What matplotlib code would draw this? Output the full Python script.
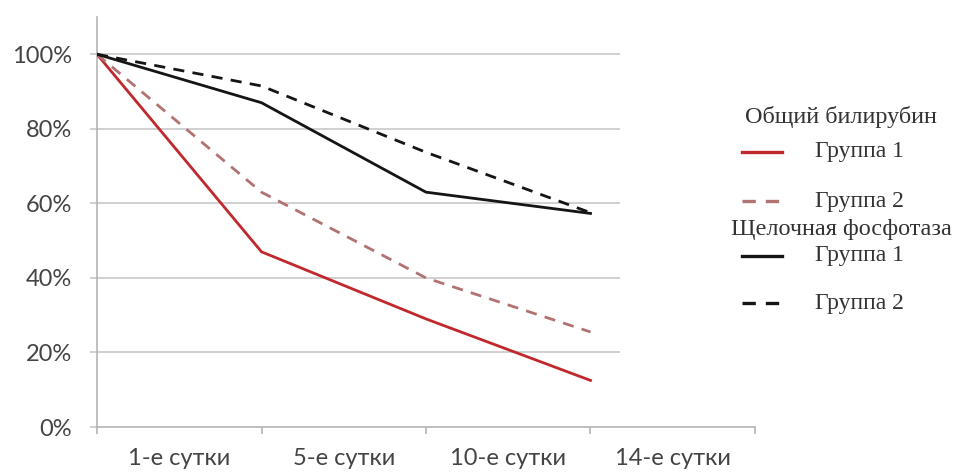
import matplotlib
matplotlib.use("Agg")
import matplotlib.pyplot as plt
from matplotlib.lines import Line2D
from matplotlib.ticker import PercentFormatter

# Данные (в процентах от исходного уровня)
days = ["1-е сутки", "5-е сутки", "10-е сутки", "14-е сутки"]
bili_g1 = [100, 47, 29, 12.5]
bili_g2 = [100, 63, 40, 25.5]
alp_g1 = [100, 87, 63, 57.3]
alp_g2 = [100, 91.5, 73.7, 57.5]
y_ticks = [0, 20, 40, 60, 80, 100]

RED = "#c0282d"
RED2 = "#b27272"
BLACK = "#151515"
GRID = "#c8c8c8"
TXT = "#444444"

fig = plt.figure(figsize=(9.62, 4.73), dpi=100)
ax = fig.add_axes([97 / 962, 1 - 427 / 473, (755 - 97) / 962, (427 - 17) / 473])

x = list(range(len(days)))

# Горизонтальные линии сетки (обрываются перед легендой)
ax.hlines(y_ticks[1:], -0.045, 3.18, color=GRID, lw=1.2, zorder=1)

ax.plot(x, bili_g1, color=RED, lw=2.0, zorder=3)
ax.plot(x, bili_g2, color=RED2, lw=2.0, dashes=(4, 3), zorder=3)
ax.plot(x, alp_g1, color=BLACK, lw=2.0, zorder=3)
ax.plot(x, alp_g2, color=BLACK, lw=2.0, dashes=(4, 3), zorder=3)

ax.set_xlim(0, 4)
ax.set_ylim(0, 110)
ax.set_yticks(y_ticks)
ax.yaxis.set_major_formatter(PercentFormatter(100, decimals=0))
ax.set_xticks(range(len(days) + 1))
ax.set_xticklabels([])
ax.set_xticks([i + 0.5 for i in x], minor=True)
ax.set_xticklabels(days, minor=True)

for s in ["top", "right"]:
    ax.spines[s].set_visible(False)
for s in ["left", "bottom"]:
    ax.spines[s].set_color("#b5b5b5")
    ax.spines[s].set_linewidth(1.2)

ax.tick_params(axis="y", length=5, width=1.2, color=GRID, pad=13,
               labelsize=17, labelcolor=TXT)
ax.tick_params(axis="x", which="major", length=5, width=1.2, color="#b5b5b5")
ax.tick_params(axis="x", which="minor", length=0, pad=15,
               labelsize=17, labelcolor=TXT)
for lab in ax.get_yticklabels() + ax.get_xticklabels(minor=True):
    lab.set_fontfamily("Lato")

# Легенда (как в исходнике: заголовки групп и образцы линий)
serif = "Liberation Serif"
fig.text(841 / 962, 1 - 117 / 473, "Общий билирубин", ha="center", va="center",
         fontsize=17.5, family=serif, color="#333333")
fig.text(841 / 962, 1 - 230 / 473, "Щелочная фосфотаза", ha="center", va="center",
         fontsize=17.5, family=serif, color="#333333")

legend_rows = [
    (152, RED, None, "Группа 1"),
    (201, RED2, (4, 3), "Группа 2"),
    (256, BLACK, None, "Группа 1"),
    (303, BLACK, (4, 3), "Группа 2"),
]
for ypix, col, dash, label in legend_rows:
    yf = 1 - ypix / 473
    ln = Line2D([742 / 962, 782 / 962], [yf, yf], transform=fig.transFigure,
                color=col, lw=2.4)
    if dash:
        ln.set_dashes(dash)
    fig.add_artist(ln)
    fig.text(815 / 962, yf, label, ha="left", va="center", fontsize=17,
             family=serif, color="#333333")

fig.savefig("out.png", dpi=100)
